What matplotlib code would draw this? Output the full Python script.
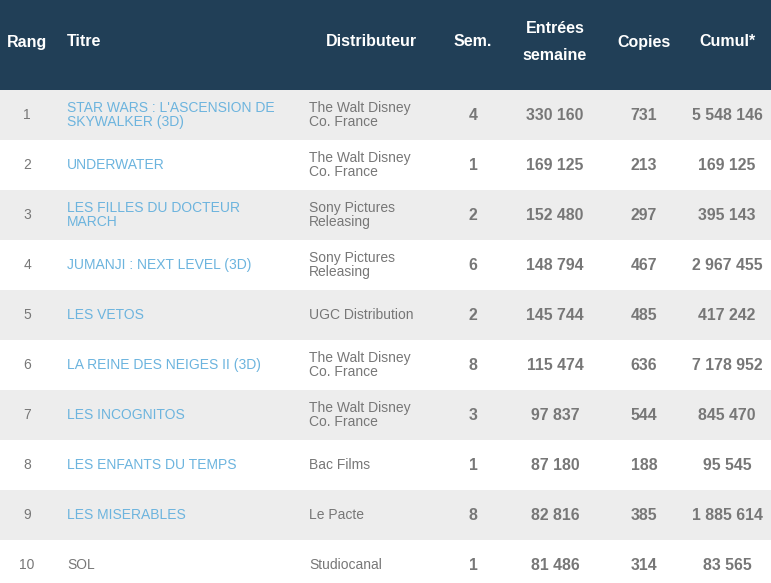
import matplotlib.pyplot as plt
from matplotlib.patches import Rectangle

plt.rcParams['font.family'] = ['Liberation Sans', 'DejaVu Sans']

headers = ["Rang", "Titre", "Distributeur", "Sem.", "Entrées\nsemaine", "Copies", "Cumul*"]
rangs = [1, 2, 3, 4, 5, 6, 7, 8, 9, 10]
titres = ["STAR WARS : L'ASCENSION DE\nSKYWALKER (3D)", "UNDERWATER",
          "LES FILLES DU DOCTEUR\nMARCH", "JUMANJI : NEXT LEVEL (3D)", "LES VETOS",
          "LA REINE DES NEIGES II (3D)", "LES INCOGNITOS", "LES ENFANTS DU TEMPS",
          "LES MISERABLES", "SOL"]
liens = [True, True, True, True, True, True, True, True, True, False]
distributeurs = ["The Walt Disney\nCo. France", "The Walt Disney\nCo. France",
                 "Sony Pictures\nReleasing", "Sony Pictures\nReleasing", "UGC Distribution",
                 "The Walt Disney\nCo. France", "The Walt Disney\nCo. France", "Bac Films",
                 "Le Pacte", "Studiocanal"]
semaines = [4, 1, 2, 6, 2, 8, 3, 1, 8, 1]
entrees = [330160, 169125, 152480, 148794, 145744, 115474, 97837, 87180, 82816, 81486]
copies = [731, 213, 297, 467, 485, 636, 544, 188, 385, 314]
cumul = [5548146, 169125, 395143, 2967455, 417242, 7178952, 845470, 95545, 1885614, 83565]


def fmt(n):
    return f"{n:,}".replace(",", " ")


W, H = 771, 583
fig = plt.figure(figsize=(W / 100, H / 100), dpi=100)
ax = fig.add_axes([0, 0, 1, 1])
ax.set_xlim(0, W)
ax.set_ylim(H, 0)
ax.axis('off')

header_h = 90
row_h = 50
navy = '#213f57'
grey_txt = '#777777'
link = '#6cb4de'

ax.add_patch(Rectangle((0, 0), W, header_h, color=navy, lw=0))

# header
hx = [27, 67, 371, 473, 555, 644, 727]
hal = ['center', 'left', 'center', 'center', 'center', 'center', 'center']
for x, h, a in zip(hx, headers, hal):
    ax.text(x, 42, h, color='white', fontsize=11.5, fontweight='bold',
            ha=a, va='center', linespacing=2.0)

# rows
for i in range(len(rangs)):
    y0 = header_h + i * row_h
    yc = y0 + row_h / 2
    if i % 2 == 0:
        ax.add_patch(Rectangle((0, y0), W, row_h, color='#ededed', lw=0))
    ax.text(27, yc, str(rangs[i]), color=grey_txt, fontsize=10, ha='center', va='center')
    ax.text(67, yc, titres[i], color=link if liens[i] else grey_txt, fontsize=10,
            ha='left', va='center', linespacing=1.08)
    ax.text(309, yc, distributeurs[i], color=grey_txt, fontsize=10,
            ha='left', va='center', linespacing=1.08)
    ax.text(473, yc, str(semaines[i]), color=grey_txt, fontsize=11.4, fontweight='bold',
            ha='center', va='center')
    ax.text(555, yc, fmt(entrees[i]), color=grey_txt, fontsize=11.4, fontweight='bold',
            ha='center', va='center')
    ax.text(644, yc, str(copies[i]), color=grey_txt, fontsize=11.4, fontweight='bold',
            ha='center', va='center')
    ax.text(727, yc, fmt(cumul[i]), color=grey_txt, fontsize=11.4, fontweight='bold',
            ha='center', va='center')

fig.savefig('out.png', dpi=100)
